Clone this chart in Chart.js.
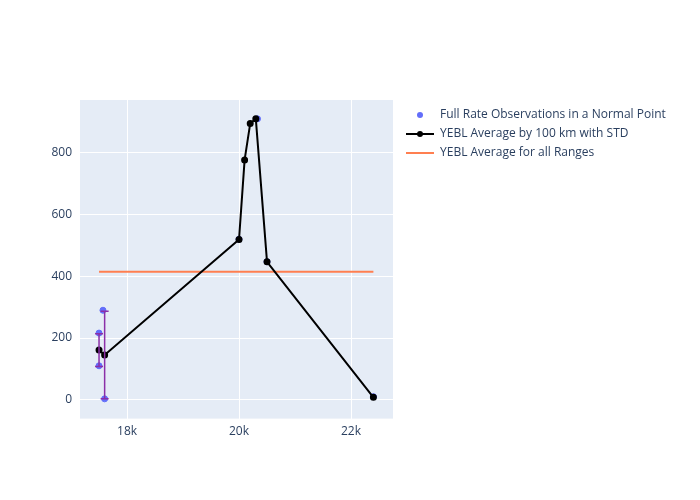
<!DOCTYPE html>
<html>
<head>
<script src="https://cdn.jsdelivr.net/npm/chart.js@4"></script>
<style>body{margin:0;background:#fff}#wrap{width:700px;height:500px}</style>
</head>
<body>
<div id="wrap"><canvas id="myChart"></canvas></div>
<script>
const obsX = [17500, 17500, 17570, 17600, 20000, 20330, 20500, 22400];
const obsY = [216, 110, 290, 3, 520, 910, 447, 10];
const avgX = [17500, 17600, 20000, 20100, 20200, 20300, 20500, 22400];
const avgY = [161, 145, 519, 777, 895, 910, 447, 8];
const avgStd = [53, 142, 0, 0, 0, 0, 0, 0];
const allRangeX = [17500, 22400];
const allRangeY = [415, 415];

const errorBars = {
  id: 'errorBars',
  afterDatasetsDraw(chart) {
    const c = chart.ctx, xs = chart.scales.x, ys = chart.scales.y;
    c.save();
    c.strokeStyle = '#8B2FA8';
    c.lineWidth = 1.5;
    avgX.forEach((x, i) => {
      if (!avgStd[i]) return;
      const px = xs.getPixelForValue(x);
      const top = ys.getPixelForValue(avgY[i] + avgStd[i]);
      const bot = ys.getPixelForValue(avgY[i] - avgStd[i]);
      c.beginPath();
      c.moveTo(px, top); c.lineTo(px, bot);
      c.moveTo(px - 4, top); c.lineTo(px + 4, top);
      c.moveTo(px - 4, bot); c.lineTo(px + 4, bot);
      c.stroke();
    });
    c.restore();
  }
};

const plotBg = {
  id: 'plotBg',
  beforeDraw(chart) {
    const a = chart.chartArea;
    chart.ctx.save();
    chart.ctx.fillStyle = '#E5ECF6';
    chart.ctx.fillRect(a.left, a.top, a.right - a.left, a.bottom - a.top);
    chart.ctx.restore();
  }
};

// legend drawn at the right, like the reference
const sideLegend = {
  id: 'sideLegend',
  afterDraw(chart) {
    const c = chart.ctx;
    const x0 = 406, y0 = 115, step = 19;
    c.save();
    c.font = '12px "Open Sans"';
    c.textBaseline = 'middle';
    c.fillStyle = '#2A3F5F';
    chart.data.datasets.forEach((d, i) => {
      const y = y0 + i * step;
      if (i === 0) {
        c.fillStyle = d.backgroundColor;
        c.beginPath(); c.arc(x0 + 14, y, 3, 0, Math.PI * 2); c.fill();
      } else {
        c.strokeStyle = d.borderColor; c.lineWidth = 2;
        c.beginPath(); c.moveTo(x0, y); c.lineTo(x0 + 28, y); c.stroke();
        if (i === 1) { c.fillStyle = '#000'; c.beginPath(); c.arc(x0 + 14, y, 3, 0, Math.PI * 2); c.fill(); }
      }
      c.fillStyle = '#2A3F5F';
      c.fillText(d.label, x0 + 34, y);
    });
    c.restore();
  }
};

new Chart(document.getElementById('myChart'), {
  type: 'scatter',
  data: {
    datasets: [
      {
        label: 'Full Rate Observations in a Normal Point',
        data: obsX.map((x, i) => ({x: x, y: obsY[i]})),
        backgroundColor: '#636EFA',
        borderColor: '#636EFA',
        pointRadius: 3,
        order: 3
      },
      {
        label: 'YEBL Average by 100 km with STD',
        data: avgX.map((x, i) => ({x: x, y: avgY[i]})),
        showLine: true,
        borderColor: '#000',
        backgroundColor: '#000',
        borderWidth: 2,
        pointRadius: 2.5,
        order: 1
      },
      {
        label: 'YEBL Average for all Ranges',
        data: allRangeX.map((x, i) => ({x: x, y: allRangeY[i]})),
        showLine: true,
        borderColor: '#FF7F50',
        backgroundColor: '#FF7F50',
        borderWidth: 2,
        pointRadius: 0,
        order: 2
      }
    ]
  },
  options: {
    responsive: true,
    maintainAspectRatio: false,
    animation: false,
    layout: {padding: {top: 100, bottom: 55, left: 43, right: 307}},
    plugins: {
      legend: {display: false},
      tooltip: {enabled: false}
    },
    scales: {
      x: {
        min: 17160, max: 22750,
        grid: {color: '#fff', drawTicks: false},
        border: {display: false},
        afterBuildTicks(axis) { axis.ticks = [18000, 20000, 22000].map(v => ({value: v})); },
        ticks: {color: '#2A3F5F', font: {family: 'Open Sans', size: 12}, padding: 6,
          callback: v => (v / 1000) + 'k'}
      },
      y: {
        min: -61, max: 971,
        grid: {color: '#fff', drawTicks: false},
        border: {display: false},
        afterFit(axis) { axis.width = 37; },
        afterBuildTicks(axis) { axis.ticks = [0, 200, 400, 600, 800].map(v => ({value: v})); },
        ticks: {color: '#2A3F5F', font: {family: 'Open Sans', size: 12}, padding: 8}
      }
    }
  },
  plugins: [plotBg, errorBars, sideLegend]
});
</script>
</body>
</html>
